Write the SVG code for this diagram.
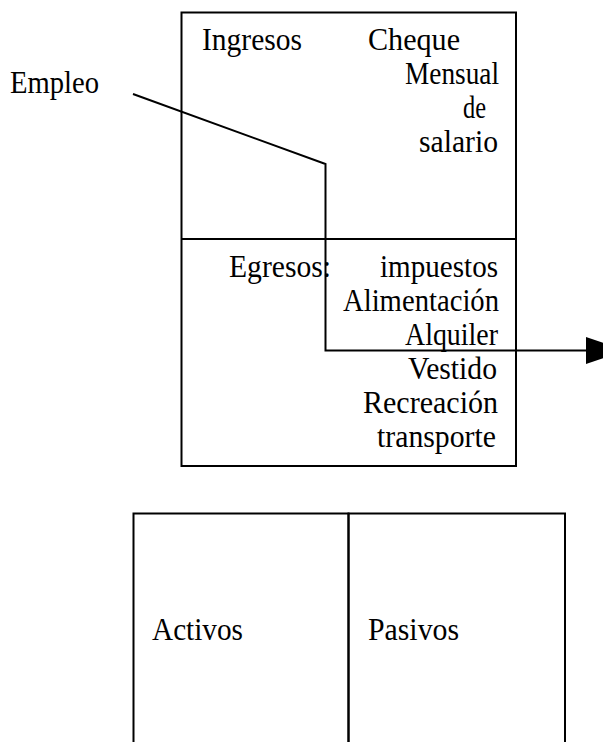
<svg xmlns="http://www.w3.org/2000/svg" width="603" height="742" viewBox="0 0 603 742">
  <style>
    .box { fill: none; stroke: #000; stroke-width: 2; }
    .lbl { font-family: "Liberation Serif", "Times New Roman", serif; font-size: 32px; fill: #000; }
    .conn { fill: none; stroke: #000; stroke-width: 2; }
  </style>
  <defs>
    <marker id="arrow" markerUnits="userSpaceOnUse" viewBox="0 0 40 27" refX="0" refY="13.5" markerWidth="40" markerHeight="27" orient="auto">
      <path d="M0,0 L40,13.5 L0,27 Z" fill="#000"/>
    </marker>
  </defs>
  <rect width="603" height="742" fill="#fff"/>

  <g id="empleo">
    <text class="lbl" x="10" y="93" textLength="89" lengthAdjust="spacingAndGlyphs">Empleo</text>
  </g>

  <g id="presupuesto">
    <rect class="box" x="181.5" y="12.5" width="334.5" height="453.5"/>
    <line class="box" x1="181.5" y1="239" x2="516" y2="239"/>
  </g>

  <g id="ingresos">
    <text class="lbl" x="202" y="50" textLength="100" lengthAdjust="spacingAndGlyphs">Ingresos</text>
    <text class="lbl" x="368" y="50" textLength="92" lengthAdjust="spacingAndGlyphs">Cheque</text>
    <text class="lbl" x="405" y="84" textLength="94" lengthAdjust="spacingAndGlyphs">Mensual</text>
    <text class="lbl" x="463" y="118" textLength="23" lengthAdjust="spacingAndGlyphs">de</text>
    <text class="lbl" x="419" y="152" textLength="79" lengthAdjust="spacingAndGlyphs">salario</text>
  </g>

  <g id="egresos">
    <text class="lbl" x="229" y="277" textLength="102" lengthAdjust="spacingAndGlyphs">Egresos:</text>
    <text class="lbl" x="380" y="277" textLength="118" lengthAdjust="spacingAndGlyphs">impuestos</text>
    <text class="lbl" x="343" y="311" textLength="156" lengthAdjust="spacingAndGlyphs">Alimentación</text>
    <text class="lbl" x="405" y="345" textLength="93" lengthAdjust="spacingAndGlyphs">Alquiler</text>
    <text class="lbl" x="408" y="379" textLength="89" lengthAdjust="spacingAndGlyphs">Vestido</text>
    <text class="lbl" x="363" y="413" textLength="135" lengthAdjust="spacingAndGlyphs">Recreación</text>
    <text class="lbl" x="377" y="447" textLength="119" lengthAdjust="spacingAndGlyphs">transporte</text>
  </g>

  <g id="activos">
    <rect class="box" x="133.5" y="513.5" width="215" height="260"/>
    <text class="lbl" x="152" y="640" textLength="91" lengthAdjust="spacingAndGlyphs">Activos</text>
  </g>

  <g id="pasivos">
    <rect class="box" x="348.5" y="513.5" width="216.5" height="260"/>
    <text class="lbl" x="368" y="640" textLength="91" lengthAdjust="spacingAndGlyphs">Pasivos</text>
  </g>

  <g id="connectors">
    <path class="conn" d="M133,94 L325.5,164 L325.5,350.5 L586,350.5" marker-end="url(#arrow)"/>
  </g>
</svg>
